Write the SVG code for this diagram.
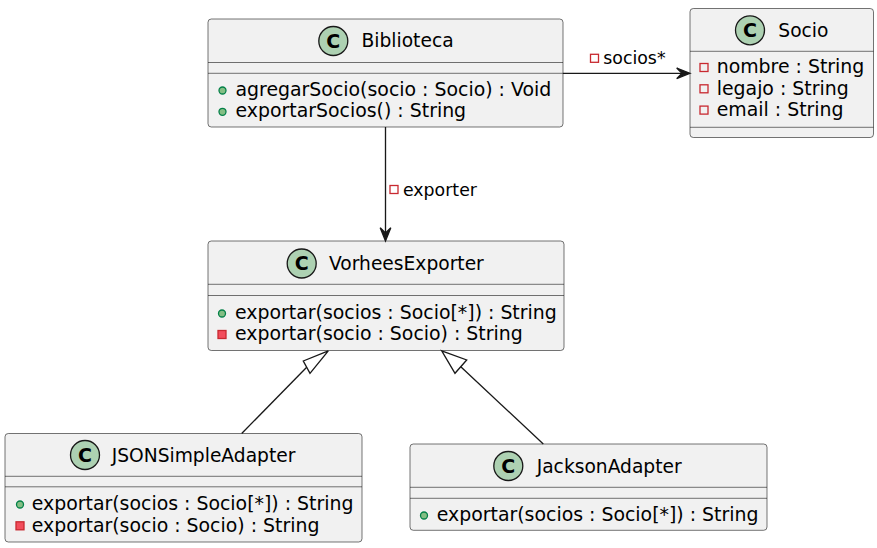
<svg xmlns="http://www.w3.org/2000/svg" width="877" height="548" viewBox="0 0 877 548">
<style>
.box{fill:#F1F1F1;stroke:#181818;stroke-width:0.6}
.sep{stroke:#181818;stroke-width:0.6}
.ci{fill:#ADD1B2;stroke:#181818;stroke-width:1.3}
.cl{font-family:"DejaVu Sans",sans-serif;font-size:19px;font-weight:bold;fill:#000;text-anchor:middle}
.nm{font-family:"DejaVu Sans",sans-serif;font-size:18.67px;fill:#000}
.mb{font-family:"DejaVu Sans",sans-serif;font-size:18.9px;fill:#000}
.lb{font-family:"DejaVu Sans",sans-serif;font-size:17.33px;fill:#000}
.pub{fill:#84BE84;stroke:#038048;stroke-width:1.3}
.privm{fill:#F24D5C;stroke:#C82930;stroke-width:1.3}
.privf{fill:none;stroke:#C82930;stroke-width:1.3}
.ln{stroke:#181818;stroke-width:1.33;fill:none}
.ah{fill:#181818;stroke:#181818;stroke-width:1.33}
.tri{fill:none;stroke:#181818;stroke-width:1.33}
</style>

<g id="Biblioteca">
<rect class="box" x="208" y="19" width="355" height="108" rx="3.3"/>
<circle class="ci" cx="333.3" cy="41" r="14.5"/>
<text class="cl" x="333.3" y="47.8">C</text>
<text class="nm" x="361.5" y="47.3">Biblioteca</text>
<line class="sep" x1="208" y1="62.5" x2="563" y2="62.5"/>
<line class="sep" x1="208" y1="73.3" x2="563" y2="73.3"/>
<circle class="pub" cx="222.5" cy="90.5" r="3.5"/>
<text class="mb" x="235.5" y="96">agregarSocio(socio : Socio) : Void</text>
<circle class="pub" cx="222.5" cy="111.8" r="3.5"/>
<text class="mb" x="235.5" y="117.3">exportarSocios() : String</text>
</g>

<g id="Socio">
<rect class="box" x="690" y="8.5" width="183.5" height="129" rx="3.3"/>
<circle class="ci" cx="750" cy="30.3" r="14.5"/>
<text class="cl" x="750" y="37.1">C</text>
<text class="nm" x="778.3" y="36.5">Socio</text>
<line class="sep" x1="690" y1="51.3" x2="873.5" y2="51.3"/>
<rect class="privf" x="700" y="63.5" width="8" height="8"/>
<text class="mb" x="716.7" y="73.3">nombre : String</text>
<rect class="privf" x="700" y="84.8" width="8" height="8"/>
<text class="mb" x="716.7" y="94.6">legajo : String</text>
<rect class="privf" x="700" y="106.1" width="8" height="8"/>
<text class="mb" x="716.7" y="115.9">email : String</text>
<line class="sep" x1="690" y1="127.3" x2="873.5" y2="127.3"/>
</g>

<g id="VorheesExporter">
<rect class="box" x="208" y="241" width="356" height="109.5" rx="3.3"/>
<circle class="ci" cx="301.7" cy="263.5" r="14.5"/>
<text class="cl" x="301.7" y="270.3">C</text>
<text class="nm" x="329" y="270">VorheesExporter</text>
<line class="sep" x1="208" y1="284.3" x2="564" y2="284.3"/>
<line class="sep" x1="208" y1="295.5" x2="564" y2="295.5"/>
<circle class="pub" cx="222" cy="313.5" r="3.5"/>
<text class="mb" x="235" y="319">exportar(socios : Socio[*]) : String</text>
<rect class="privm" x="218" y="330.5" width="8" height="8"/>
<text class="mb" x="235" y="340.3">exportar(socio : Socio) : String</text>
</g>

<g id="JSONSimpleAdapter">
<rect class="box" x="5" y="433.5" width="357" height="108.5" rx="3.3"/>
<circle class="ci" cx="85" cy="455" r="14.5"/>
<text class="cl" x="85" y="461.8">C</text>
<text class="nm" x="111.7" y="461.7">JSONSimpleAdapter</text>
<line class="sep" x1="5" y1="476.3" x2="362" y2="476.3"/>
<line class="sep" x1="5" y1="486.8" x2="362" y2="486.8"/>
<circle class="pub" cx="20" cy="504.5" r="3.5"/>
<text class="mb" x="31.7" y="510">exportar(socios : Socio[*]) : String</text>
<rect class="privm" x="16" y="521.8" width="8" height="8"/>
<text class="mb" x="31.7" y="531.6">exportar(socio : Socio) : String</text>
</g>

<g id="JacksonAdapter">
<rect class="box" x="410" y="444" width="357" height="86.3" rx="3.3"/>
<circle class="ci" cx="508.3" cy="466" r="14.5"/>
<text class="cl" x="508.3" y="472.8">C</text>
<text class="nm" x="536.7" y="472.5">JacksonAdapter</text>
<line class="sep" x1="410" y1="487.3" x2="767" y2="487.3"/>
<line class="sep" x1="410" y1="498.3" x2="767" y2="498.3"/>
<circle class="pub" cx="424" cy="515.5" r="3.5"/>
<text class="mb" x="436.7" y="521">exportar(socios : Socio[*]) : String</text>
</g>

<g id="connectors">
<line class="ln" x1="563" y1="73.3" x2="688" y2="73.3"/>
<polygon class="ah" points="690,73.3 676.7,68 682,73.3 676.7,78.6"/>
<rect class="privf" x="590.5" y="54.3" width="8" height="8"/>
<text class="lb" x="603.3" y="64.3">socios*</text>

<line class="ln" x1="385.5" y1="127" x2="385.5" y2="239"/>
<polygon class="ah" points="385.5,241 380.2,227.7 385.5,233 390.8,227.7"/>
<rect class="privf" x="390" y="185.5" width="8" height="8"/>
<text class="lb" x="403" y="195.8">exporter</text>

<line class="ln" x1="241.7" y1="433.5" x2="306.7" y2="367.2"/>
<polygon class="tri" points="328.3,350.8 303.3,361 310,373.3"/>

<line class="ln" x1="543.3" y1="444" x2="460.8" y2="366.7"/>
<polygon class="tri" points="441.7,350.8 466.7,360 455,373.3"/>
</g>
</svg>
